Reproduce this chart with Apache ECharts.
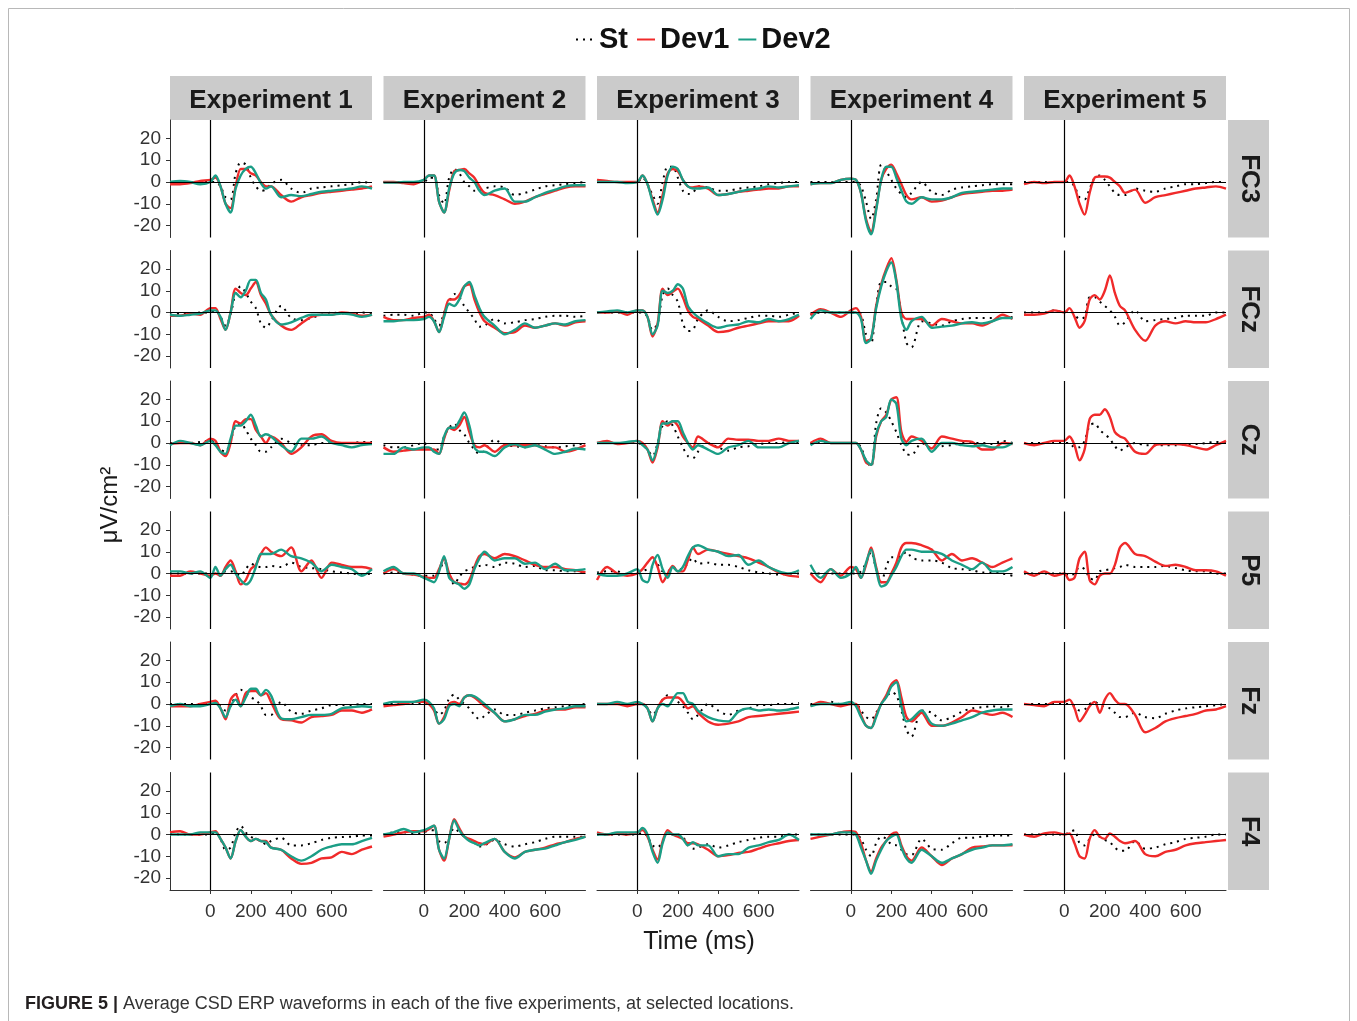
<!DOCTYPE html>
<html>
<head>
<meta charset="utf-8">
<title>Average CSD ERP waveforms</title>
<script src="https://cdn.jsdelivr.net/npm/echarts@6/dist/echarts.min.js"></script>
<style>
	html,body{margin:0;padding:0;background:#fff;}
	#main{width:1357px;height:1021px;}
</style>
</head>
<body>
<div id="main"></div>
<script type="text/javascript">
	// time axis (ms) and tick labels
	var times = [-200,-150,-100,-50,0,25,50,75,100,125,150,175,200,225,250,275,300,350,400,450,500,550,600,650,700,750,800];
	var xTicks = [0,200,400,600];
	var yTicks = [-20,-10,0,10,20];

	var experiments = ["Experiment 1","Experiment 2","Experiment 3","Experiment 4","Experiment 5"];
	var channels = ["FC3","FCz","Cz","P5","Fz","F4"];
	var conditions = ["St","Dev1","Dev2"];

	//FC3
	var FC3_E1_St   = [0,0,0,0,0,0,-2,-7,-8,4,9,8,2,-2,-4,-3.5,-1,1,-3,-5,-3,-2.5,-2,-1.5,-1,0,-0.5];
	var FC3_E1_Dev1 = [-1,-1,-0.5,0.5,1,2,-2,-10,-12,-2,6,6,4,3,0,-2,-2,-6,-9,-7,-6,-5,-4.5,-4,-3.5,-3,-2];
	var FC3_E1_Dev2 = [0,0.5,0,-1,0,3,-2,-10,-14,-3,3,6,7,4,-0.5,-3,-2,-7,-6,-6.5,-5.5,-4.5,-4,-3.5,-3,-2,-3];
	var FC3_E2_St   = [0,0,0,0,0,2,2,-6,-10,2,6,4,0,-2,-4,-4,-3,-2,-2.5,-6,-5,-3.5,-2,-1.5,-1,-0.5,0];
	var FC3_E2_Dev1 = [0,0,-0.5,-1,1,3,3,-9,-14,-4,5,5.5,6,4,2,-2,-5,-6,-8,-10,-9,-7,-5.5,-4,-2.5,-2,-2];
	var FC3_E2_Dev2 = [-0.3,-0.3,0,0,1,3,3,-9,-14,-3,4,5.5,5,2,0,-4,-6,-4,-3,-9,-9,-7,-5,-3.5,-2,-1.5,-1.5];
	var FC3_E3_St   = [0,0,0,0,0,2,-1,-6,-10,0,7,7,2,-4,-5.5,-5,-2,-2.5,-4,-4,-3,-2.5,-2,-1,-0.5,0,0];
	var FC3_E3_Dev1 = [1,0.5,0,0,0,3,-1,-8,-14,-6,4,6,5,1,-2,-2.5,-2,-3,-6,-5.5,-4.5,-4,-3.5,-3,-3,-2,-2];
	var FC3_E3_Dev2 = [0,0,0,-0.5,0,3,-1,-9,-15,-8,3,7,6,1,-2,-3,-3,-2.5,-6,-5.5,-4.5,-3.5,-3,-2,-2.5,-2,-1.5];
	var FC3_E4_St   = [0,0,0,0,0,0,-2,-9,-17,-8,8,5,1,-3,-5.5,-7,-5,0,-4.5,-6,-3.5,-2.5,-2,-1.5,-1,-1,-1];
	var FC3_E4_Dev1 = [-1,-0.5,-0.5,1,1.5,1,-5,-17,-23,-12,1,6,8,4,-1,-6,-8,-7,-9,-8.5,-7,-5.5,-5,-4.5,-4,-4,-3.5];
	var FC3_E4_Dev2 = [-1,-0.5,-0.5,1,1.5,1,-5,-18,-24,-13,1,7,7,2,-4,-9,-10,-7,-8,-8,-7,-5,-4.5,-4,-3.5,-3,-3];
	var FC3_E5_St   = [0,0,0,0,0,0,-2,-7,-8,-3,2,3,1,-2,-5,-6,-6,-3,-4,-4.5,-3,-2,-1,-1,-0.5,0,0];
	var FC3_E5_Dev1 = [-1,0,-0.5,0,0,3,-2,-10,-15,-5,2,2.5,2.5,2,0,-2,-5,-3.5,-9.5,-7,-6,-5,-4,-3,-2.5,-2,-3];

	//FCz
	var FCz_E1_St   = [-1,-0.5,-0.5,0,0,1,-2,-6,-1,9,12,9,5,2,-5,-7,-4,3,-2.5,-3.5,-2.5,-1,0,-0.5,-0.5,0,-0.5];
	var FCz_E1_Dev1 = [-1.5,-1.5,-0.5,-1,2,2,-3,-8,0,11,9,8,11,14,8,4,-1,-6,-8,-5,-2,-1,-1,0,-0.5,-1.5,-1];
	var FCz_E1_Dev2 = [-1,-1.5,-1,-0.5,1,1,-2,-8,0,9,7,10,15,15,9,6,-1,-5.5,-4.5,-2.5,-1,-1,-1,-0.5,-1,-2,-1];
	var FCz_E2_St   = [-1.5,-1,-1,-1.5,0,0,-3,-6,0,5,8.5,7,3,0,-3,-6.5,-6,-3,-5,-4.5,-3.5,-3,-2,-1.5,-1.5,-2,-1.5];
	var FCz_E2_Dev1 = [-2,-3.5,-3.5,-2.5,-2,-1,-4,-9,-1,6,6,8,12,13,6,0,-4,-7,-9.5,-9,-6,-7,-6,-5,-6,-4.5,-4];
	var FCz_E2_Dev2 = [-4,-4,-3.5,-3.5,-3,-2,-4,-9,-2,4,3,6,12,14,8,2,-2,-6,-10,-8,-5,-7,-6,-5,-5.5,-4,-3.5];
	var FCz_E3_St   = [0,0,0,0,0,0,-2,-8,-5,8,11,8,5,-5,-8.5,-8,-3,1,-2,-4,-3.5,-2.5,-1.5,-1.5,-2,-1,0];
	var FCz_E3_Dev1 = [0,0,0.5,-1,1,1,-2,-11,-5,11,8,9.5,11,7,1,-2,-3,-6,-9,-8.5,-7,-6,-5,-4,-4,-4,-1.5];
	var FCz_E3_Dev2 = [0,0.5,1,0,1,1,-2,-10,-6,10,9,10,13,11,3,0,-2,-5,-7,-6,-5.5,-4,-4.5,-3,-4,-3,-1];
	var FCz_E4_St   = [-1,0,0,0,0,0,-1,-10,-14,3,14,14,12,11,-1,-14,-16,-4,-5,-6,-4,-3,-2.5,-2.5,-2.5,-2.5,-2];
	var FCz_E4_Dev1 = [-1,1.5,0,-2,1,2,-2,-13,-12,3,13,20,25,15,0,-3,-3,-3,-6,-3,-4,-5,-5,-6,-4,-1,-3];
	var FCz_E4_Dev2 = [-3,1,0,0,0,0,-3,-14,-12,2,12,19,23,14,-3,-8,-4,-2,-7,-6.5,-6,-5,-4.5,-5,-4,-2.5,-2.5];
	var FCz_E5_St   = [0,0,0,1,0,1,-1,-3,-2,7,7,5,3,1,-2,-6,-4.5,1,-4,-3.5,-3,-2.5,-1.5,-1.5,-1.5,0,0];
	var FCz_E5_Dev1 = [-1,-1,-0.5,1,0,2,-2,-7,-4,6,8,6,10,17,9,3,1,-8,-13,-6,-4,-5,-4,-4.5,-4.5,-3,-1];

	//Cz
	var Cz_E1_St   = [0,0,0,0.5,1,0,-3,-4,1,8,9,6,2,-1,-4,-4,-2,2,0,-1,-1,0,0,0,0,0.5,0.5];
	var Cz_E1_Dev1 = [-0.5,0,0,-1,2,1,-4,-6,0,10,9,11,11,6,3,0,3,0,-5,-2,3,4,1,0,0,0,0];
	var Cz_E1_Dev2 = [-1,1,0,-1,1,-1,-4,-5,2,8,8,10,13,8,3,4,3,-1,-4,2,2,3,0,-1,-2,-1,-0.5];
	var Cz_E2_St   = [-1,-2,-2,-1,0,-2,-3,-3,3,7,9,6,4,0,-3,-5,-3.5,1.5,-1,-1.5,-2,-1,-1.5,-2,-1.5,-1,0];
	var Cz_E2_Dev1 = [-2,-4,-3.5,-3,-3,-3,-3,-5,2,7,6,8,12,5,-1,-2,-1,-4,-1,-1,-1,-1,-2,-2,-4,-3,-1];
	var Cz_E2_Dev2 = [-5,-5,-2,-3,-2,-2,-4,-5,3,7,7,10,14,8,-2,-4,-4,-6,-2,-0.5,-2,-1,-3,-5,-4,-2.5,-3];
	var Cz_E3_St   = [0,0,0,0,0,-1,-3,-6,0,8,10,8,3,-2,-6,-7,-4,0,-2,-3.5,-2,-1.5,-0.5,0,0,0.5,0];
	var Cz_E3_Dev1 = [0,1,-0.5,0,1,0,-3,-9,-2,10,8,10,8,3,0,-2,3,0,-2,2,1.5,1.5,1,1,2,1,1];
	var Cz_E3_Dev2 = [0,0,0,0.5,1,-1,-3,-8,-1,9,9,10,10,5,0,-3,-1,-3,-5,-2,-1,1,-2,-2,-2,0,1];
	var Cz_E4_St   = [0,0,0,0,0,0,-2,-8,-11,9,16,14,10,5,-1,-5,-5.5,0,-2.5,-1.5,-1,0,0,0,-0.5,1,0];
	var Cz_E4_Dev1 = [0,2,0,0,0,0,-3,-9,-10,3,10,13,20,21,5,0.5,3,1,-2.5,3,2,1,0.5,-3,-3,0,-0.5];
	var Cz_E4_Dev2 = [-1,1,0,0,0,0,-3,-8,-10,4,10,12,20,18,2,-1,1,2,-4,0,0,-1,-1.5,-1,-2,-2,0];
	var Cz_E5_St   = [0,0,0,0,0,0,-2,-2,1,8,9,6,4,2,-1.5,-3.5,-2,0,-1,-1,-1,-1,-0.5,-0.5,0,0.5,0.5];
	var Cz_E5_Dev1 = [0,-1,0,1,1,3,-1,-8,-3,11,13,13,15.5,12,5,3,2,-4,-5,-1,-0.5,-0.5,-1,-2,-3,-1,1];

	//P5
	var P5_E1_St   = [0,0,0,0,0,0,-1,1,1,0,-1,2,4.5,3.5,3,3,3.5,3,5,3,2.5,2,1,0.5,0,-0.5,0];
	var P5_E1_Dev1 = [-1,-1,1,0,-1,0,-1,3,6,1,-5,-3,2,4,9,12,10,8,12,1,6,-2,5,4,3,3,2];
	var P5_E1_Dev2 = [1,1,0,1,-2,3,-1,2,4,0,-3,-5,-3,3,9,9,9,11,8,7,5,1,4,3,2,-1,2];
	var P5_E2_St   = [0,0.5,0,-0.5,-1,-1,-1,1,5.5,0,-5,-1.5,1,2,3,3.5,4,3,5,4.5,3,3.5,1.5,1.5,1,1,0];
	var P5_E2_Dev1 = [0,2,0,-0.5,-1.5,-2,-2,2,7,0,-4,-4.5,-5,-3,3,8,9,7,9,8,6,4,3,3,2,1.5,0.5];
	var P5_E2_Dev2 = [1,3,0,0,-2,-3,-4,1,8,-2,-4,-5,-7,-5,2,7,10,6,7,7,4.5,5,2,4.5,1.5,1.5,2];
	var P5_E3_St   = [0.5,1,1,-0.5,0,1,2,3,4,1,1,3,2,2,5,7,4.5,5,4,4,3,1.5,0.5,0,-0.5,0,0];
	var P5_E3_Dev1 = [-3,3,0,-1,0,2,5,7.5,3,-4,0,3.5,1,1,6,12,9,11,10,9,8,7,5,3,0.5,-1,-1.5];
	var P5_E3_Dev2 = [0,-1,-1,0,2,-3,-4,4,8.5,2,-2,3,1,3,8,12,13,11,10,8,8.5,4,6,3,1,0,1.5];
	var P5_E4_St   = [0,0,0,0,0,0,1,5,10,2,-4,3,7.5,7.5,8,10,7.5,6,6,5,2.5,2,1.5,0.5,0.5,0,-1];
	var P5_E4_Dev1 = [0,-4,2,-1,3,2,-2,4,12,3,-4,-4,0,5,12,14,14,13,11,6,9,6,7,5,3,5,7];
	var P5_E4_Dev2 = [4,-2,2,-2,0,3,-2,5,11,2,-6,-5,-1,3,8,11,11,10,10,9,6,4,2,5,1,1,3];
	var P5_E5_St   = [0,0,0,0,0,-1,0,3,2,-2,-3,1,1.5,2,2.5,3,4,3,3,3,3.5,2.5,1.5,1,1,0,0];
	var P5_E5_Dev1 = [1,-1,1,-1,0,-3,-2,7,10,-3,-5,-1,0,0,4,12,14,9,8,5.5,3.5,4,3,1.5,1.5,1,-1];

	//Fz
	var Fz_E1_St   = [0,0,0,0,0,0,-1,-3,-1,4,6.5,5,3,2,-1,-5,-5,1,-3.5,-4.5,-3,-2,-0.5,-0.5,-0.5,0,0];
	var Fz_E1_Dev1 = [-1,-1,-1,0,1,1.5,-2,-7,2,4.5,-1,5,6,6,4,5,1,-7,-7.5,-8.5,-6,-5.5,-5,-3,-3,-4,-2.5];
	var Fz_E1_Dev2 = [-1,0,-1,-1,0,0.5,-2,-6,-1,2,-1,3,7,7,4,6.5,4,-6.5,-7,-6,-5,-5,-4.5,-2,-1.5,-1,-1.5];
	var Fz_E2_St   = [0,0,0,0,0,0,-2,-5,-3,2.5,4.3,2,0,-2,-5,-7,-5.5,-2.5,-5,-5,-4,-3,-2,-1.5,-1,-0.5,0];
	var Fz_E2_Dev1 = [-1,-0.5,0,1,1,0,-3,-9,-6,0,1,0,3,4,3,1,-1,-4,-8,-7,-5.5,-4.5,-3,-2.5,-2.5,-1.5,-1.5];
	var Fz_E2_Dev2 = [0,1,1,1,2,1,-2,-9,-7,-1,0,-1,3,4,3.5,2,0,-4,-8,-7,-5,-5,-3.5,-2.5,-2,-1,-1];
	var Fz_E3_St   = [0,0,0,0,0,0,-2,-5,-2,2,4,3,1,-1,-4,-7,-5,0,-3,-5,-3,-2,-0.5,-0.5,0,0,0.5];
	var Fz_E3_Dev1 = [0,0,0,-1,0,0,-2,-8,-2,2,3,3,3,1,-2,-1,-4,-8,-9.5,-9,-8,-6,-5.5,-5,-4.5,-4,-3.5];
	var Fz_E3_Dev2 = [0,0,1,0,1,0,-2,-8,-2,0,-1,2,5,5,1,0,-3,-6,-7.5,-8,-3.5,-2,-3,-2.5,-3,-2.5,-1.5];
	var Fz_E4_St   = [0,0,1,0,0,0,-3,-6,-7,-4,0,3,5.5,4,-3,-12,-15,-3,-4,-7.5,-6,-3.5,-2,-1.5,-1,-1.5,-0.5];
	var Fz_E4_Dev1 = [-1,1,0,-1,0,0,-5,-10,-11,-5,0,4,9,11,3,-6,-8,-4,-10,-10,-8.5,-6,-3,-4,-5,-4,-6];
	var Fz_E4_Dev2 = [-1,0,0,0,1,-1,-6,-10,-11,-6,0,3,8,10,-1,-8,-7,-3,-9,-10,-9,-7.5,-6,-4,-3,-2.5,-2.5];
	var Fz_E5_St   = [0,0,0,0,0,0,-1,-3,-2.5,0,1,-0.5,-1,-2,-4,-6,-6,-4,-6,-6.5,-4.5,-3,-2,-1.5,-1,-0.5,0];
	var Fz_E5_Dev1 = [0,-0.5,-1,1,1,2,-2,-8,-5,-1,1,-4,2,5,2,0,0,-5,-13,-11,-8,-6.5,-5.5,-4.5,-3,-2.5,-1];

	//F4
	var F4_E1_St   = [0.5,0,0,0,0,1,-2,-7,-6,1,4,1,-1,-2,-3,-4.5,-3,-1.5,-5,-5,-4,-2.5,-1.5,-1.2,-1,-0.5,-0.5];
	var F4_E1_Dev1 = [1,1.5,0,0,1,1.5,-2,-6,-11,-3,2,-1,-3,-2,-3,-3,-6,-7,-11,-13.5,-13,-11,-10.5,-8,-9,-7,-5.5];
	var F4_E1_Dev2 = [0,0,0,1,1,1,-2,-6,-11,-3,2,-1,-3,-2,-3,-3.5,-6,-7,-10,-12,-10,-7,-5.5,-4.5,-4.5,-3,-1.5];
	var F4_E2_St   = [0,1,1,0.5,1,2,2,-3,-4,-1,3,1,-1,-2.5,-4,-5.5,-5,-2.5,-4.5,-5.5,-4.5,-3.5,-2,-1,-1,-1,-1];
	var F4_E2_Dev1 = [-1,0,1,1.5,1.5,2.5,4,-7,-12,-2,7,3,-1,-2,-3,-4,-4.5,-2,-8,-10.5,-8,-7,-6,-4.5,-3.5,-2,-1];
	var F4_E2_Dev2 = [0,1,2.5,1,2,3,4,-7,-11,-2,6.5,2,-1,-3,-4,-5,-4,-2,-8,-11,-8,-7,-6.5,-5,-3.5,-2.5,-1];
	var F4_E3_St   = [0,0,0,0,0,1,-1,-5,-6,-3,1,0,0,-1,-5,-6.5,-6,-4.5,-6,-5,-3.5,-2.5,-1.5,-1,-1,0,0];
	var F4_E3_Dev1 = [1,0,0.5,0,1,2,-1,-7,-11.5,-3,2,0,-1,-2,-4,-4,-4.5,-7,-10,-9.5,-8.5,-8,-6.5,-5,-4,-3,-2.5];
	var F4_E3_Dev2 = [0,0,1,1,1,3,0,-8,-13,-4,1,0,0,-2,-5,-3.5,-5,-5,-10,-9,-9,-6,-5,-3.5,-2.5,0,-2.5];
	var F4_E4_St   = [0,0,0,0,0,0,-2,-7,-10,-4,-1,-2,-4.5,-5,-7,-9,-9.5,-2,-6.5,-7,-4,-1.5,-1.5,-1,-0.5,-0.5,-0.5];
	var F4_E4_Dev1 = [-2,-1,0,1,1.5,1,-4,-12,-17,-11,-6,-3,0,1,-5,-10,-12,-6,-10,-14,-11,-9,-6,-5.5,-5,-5,-5];
	var F4_E4_Dev2 = [0,0,0,1,1,0,-6,-12,-18,-12,-7,-3,-1,0,-6,-11,-13,-7,-10,-13,-11,-9,-7,-6,-5,-5,-4.5];
	var F4_E5_St   = [0,0,0,0,0,1,2,-4,-5,-2,0,-1,-2.5,-3.5,-6,-7.5,-7.5,-3,-6.5,-6,-4.5,-3.5,-2,-1.5,-1,0,0];
	var F4_E5_Dev1 = [0,-1,0.5,1,0,0.5,-4,-10,-11,-2,2,-1,-2,0.5,-1,-3,-4,-3,-9,-10,-8,-7,-5,-4,-3.5,-3,-2.5];

	var font = '"Liberation Sans", Arial, sans-serif';
	var colors = {St:"#000000", Dev1:"#F02A2A", Dev2:"#1B9E86"};

	//panel layout
	var left0 = 170, colStep = 213.5, panelW = 202;
	var top0 = 120, rowStep = 130.5, panelH = 117.5;

	function pairs(vals){
		return times.map(function(t,i){ return [t, vals[i]]; });
	}

	var grids = [], xAxes = [], yAxes = [], series = [], graphics = [];

	channels.forEach(function(ch,r){
		experiments.forEach(function(ex,c){
			var gi = r*5 + c;
			var bottom = (r === channels.length-1), first = (c === 0);
			grids.push({left:left0 + c*colStep, top:top0 + r*rowStep, width:panelW, height:panelH});

			xAxes.push({
				type:'value', gridIndex:gi, min:-200, max:800,
				splitLine:{show:false},
				axisLine:{show:bottom, onZero:false, lineStyle:{color:'#333', width:1}},
				axisTick:{show:bottom, length:4, customValues:xTicks, lineStyle:{color:'#333'}},
				axisLabel:{show:bottom, customValues:xTicks, margin:12, color:'#333', fontSize:19, fontFamily:font}
			});
			yAxes.push({
				type:'value', gridIndex:gi, min:-25.5, max:28.5,
				splitLine:{show:false},
				axisLine:{show:first, onZero:false, lineStyle:{color:'#333', width:1}},
				axisTick:{show:first, length:4, customValues:yTicks, lineStyle:{color:'#333'}},
				axisLabel:{show:first, customValues:yTicks, margin:9, color:'#333', fontSize:19, fontFamily:font}
			});

			var conds = (c === 4) ? ["St","Dev1"] : conditions;
			conds.forEach(function(cond){
				var s = {
					name:cond, type:'line', xAxisIndex:gi, yAxisIndex:gi,
					data:pairs(window[ch + "_E" + (c+1) + "_" + cond]),
					symbol:'none', showSymbol:false, smooth:0.3, silent:true,
					lineStyle: cond === "St"
						? {color:colors.St, width:2, type:[2,5]}
						: {color:colors[cond], width:2.4},
					itemStyle:{color:colors[cond]}
				};
				if(cond === "St"){
					//zero reference lines
					s.markLine = {
						silent:true, symbol:['none','none'], animation:false,
						label:{show:false},
						lineStyle:{color:'#000', width:1.2, type:'solid'},
						data:[{xAxis:0},{yAxis:0}]
					};
				}
				series.push(s);
			});
		});
	});

	//outer frame
	graphics.push({type:'rect', shape:{x:8.5, y:8.5, width:1341, height:1030}, style:{fill:'none', stroke:'#b8b8b8', lineWidth:1}});

	//strip headers (top)
	experiments.forEach(function(ex,c){
		var x = left0 + c*colStep;
		graphics.push({type:'rect', shape:{x:x, y:76, width:panelW, height:44}, style:{fill:'#cbcbcb'}});
		graphics.push({type:'text', x:x + panelW/2, y:101,
			style:{text:ex, fill:'#1a1a1a', fontSize:26, fontWeight:'bold', fontFamily:font, align:'center', verticalAlign:'middle'}});
	});

	//strip headers (right)
	channels.forEach(function(ch,r){
		var y = top0 + r*rowStep;
		graphics.push({type:'rect', shape:{x:1228, y:y, width:41, height:panelH}, style:{fill:'#cbcbcb'}});
		graphics.push({type:'text', x:1249, y:y + panelH/2, rotation:-Math.PI/2,
			style:{text:ch, fill:'#1a1a1a', fontSize:26, fontWeight:'bold', fontFamily:font, align:'center', verticalAlign:'middle'}});
	});

	//axis titles
	graphics.push({type:'text', x:110, y:505, rotation:Math.PI/2,
		style:{text:'μV/cm²', fill:'#1a1a1a', fontSize:24, fontFamily:font, align:'center', verticalAlign:'middle'}});
	graphics.push({type:'text', x:699, y:942,
		style:{text:'Time (ms)', fill:'#1a1a1a', fontSize:25, fontFamily:font, align:'center', verticalAlign:'middle'}});

	//caption
	graphics.push({type:'text', x:25, y:1004,
		style:{
			text:'{b|FIGURE 5 |} Average CSD ERP waveforms in each of the five experiments, at selected locations.',
			fill:'#333', fontSize:18, fontFamily:font, align:'left', verticalAlign:'middle',
			rich:{b:{fontWeight:'bold', fontSize:18, fontFamily:font, fill:'#231f20'}}
		}});

	var myChart = echarts.init(document.getElementById("main"));
	var option = {
		animation:false,
		backgroundColor:'#fff',
		legend:{
			data:["St","Dev1","Dev2"],
			left:570, top:20,
			itemWidth:18, itemHeight:10, itemGap:8,
			itemStyle:{opacity:0, borderWidth:0},
			textStyle:{fontSize:29, fontWeight:'bold', color:'#111', fontFamily:font}
		},
		grid:grids,
		xAxis:xAxes,
		yAxis:yAxes,
		series:series,
		graphic:graphics
	};
	myChart.setOption(option);
</script>
</body>
</html>
